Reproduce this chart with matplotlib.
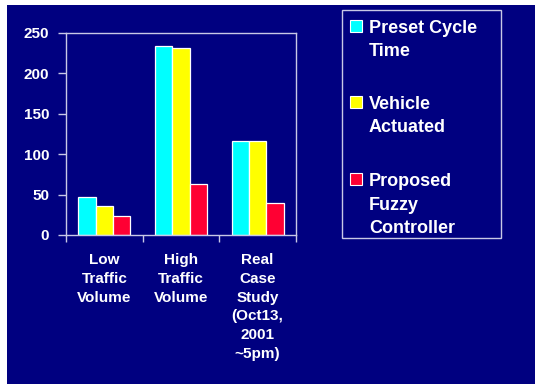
import matplotlib
matplotlib.use("Agg")
import matplotlib.pyplot as plt
from matplotlib.patches import Rectangle
import numpy as np

plt.rcParams['font.family'] = ['Liberation Sans', 'DejaVu Sans']
plt.rcParams['font.weight'] = 'bold'

# average delay per scenario
categories = ["Low\nTraffic\nVolume", "High\nTraffic\nVolume",
              "Real\nCase\nStudy\n(Oct13,\n2001\n~5pm)"]
preset_cycle = [47, 234, 116]
vehicle_actuated = [36, 231, 116]
fuzzy_controller = [24, 63, 40]
series_names = ["Preset Cycle\nTime", "Vehicle\nActuated", "Proposed\nFuzzy\nController"]
series_colors = ["#00ffff", "#ffff00", "#ff0033"]
yticks = [0, 50, 100, 150, 200, 250]

W, H = 535, 384
navy = "#000080"
line_col = "#c8c8e6"

fig = plt.figure(figsize=(W / 100, H / 100), dpi=100, facecolor="white")
# slide background, leaving a thin white margin on the left and top
fig.patches.append(Rectangle((7 / W, 0), 1, 1 - 5 / H, transform=fig.transFigure,
                             facecolor=navy, edgecolor="none", zorder=-10))

ax = fig.add_axes([66 / W, (H - 235) / H, 230 / W, 202 / H])
ax.set_facecolor(navy)

x = np.arange(len(categories))
bw = 0.225
for i, vals in enumerate([preset_cycle, vehicle_actuated, fuzzy_controller]):
    ax.bar(x + (i - 1) * bw, vals, width=bw, color=series_colors[i],
           edgecolor="white", linewidth=0.9)

ax.set_xlim(-0.5, 2.5)
ax.set_ylim(0, 250)
ax.set_yticks(yticks)
ax.set_xticks(x)
ax.set_xticklabels(categories, fontsize=11, color="white", linespacing=1.43,
                   va="top")
ax.set_xticks(np.arange(-0.5, 3, 1), minor=True)
ax.tick_params(axis="x", which="major", length=0, pad=13)
ax.tick_params(axis="x", which="minor", length=5, color=line_col, width=1)
ax.tick_params(axis="y", length=6, color=line_col, width=1, pad=6,
               labelcolor="white", labelsize=11)
for s in ax.spines.values():
    s.set_color(line_col)
    s.set_linewidth(1)

# legend box
fig.patches.append(Rectangle((342 / W, (H - 238) / H), 159 / W, 228 / H,
                             transform=fig.transFigure, facecolor="none",
                             edgecolor=line_col, linewidth=1))
entry_tops = [20, 96, 173]
for name, col, top in zip(series_names, series_colors, entry_tops):
    fig.patches.append(Rectangle((350 / W, (H - top - 12) / H), 12 / W, 12 / H,
                                 transform=fig.transFigure, facecolor=col,
                                 edgecolor="white", linewidth=0.8))
    fig.text(369 / W, (H - top) / H, name, color="white", fontsize=13,
             fontweight="bold", va="top", ha="left", linespacing=1.5)

fig.savefig("out.png", dpi=100, facecolor=fig.get_facecolor())
